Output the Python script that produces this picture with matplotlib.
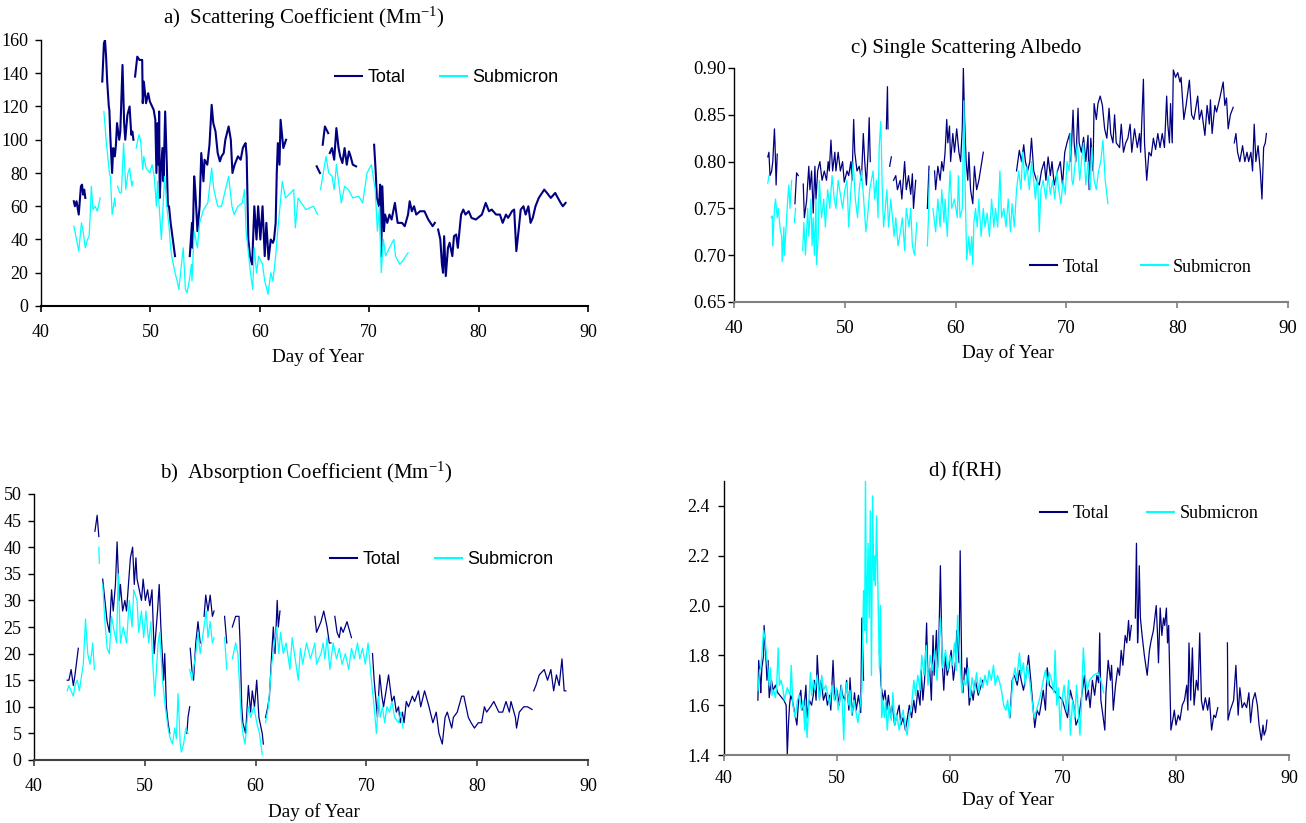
import numpy as np
import matplotlib
matplotlib.use("Agg")
import matplotlib.pyplot as plt

plt.rcParams['font.family'] = ['Liberation Serif', 'DejaVu Serif']
plt.rcParams['mathtext.fontset'] = 'custom'
plt.rcParams['mathtext.rm'] = 'Liberation Serif'
plt.rcParams['mathtext.it'] = 'Liberation Serif:italic'

GAP = None
NAVY = '#000080'
CYAN = '#00FFFF'

# ---------------- data: (day of year, value); GAP breaks a line ----------------
sca_total = [
    (43.0, 63), (43.1, 60), (43.25, 63), (43.45, 55), (43.65, 72), (43.75, 73), (43.85, 67), (43.95, 70), (44.05, 65), GAP,
    (45.6, 135), (45.75, 158), (45.85, 160), (45.95, 150), (46.05, 135), (46.2, 120), (46.25, 118), (46.35, 100), (46.5, 80),
    (46.6, 95), (46.75, 90), (46.85, 97), (46.95, 110), (47.15, 100), (47.25, 105), (47.45, 145), (47.6, 110), (47.7, 100),
    (47.9, 115), (48.1, 120), (48.25, 103), (48.35, 105), (48.45, 100), GAP,
    (48.6, 138), (48.8, 150), (49.0, 148), (49.25, 148), (49.3, 122), (49.4, 135), (49.6, 122), (49.8, 128), (49.95, 123),
    (50.3, 118), (50.45, 112), (50.55, 80), (50.65, 110), (50.75, 85), (50.8, 117), (50.85, 65), (50.95, 80), (51.1, 95),
    (51.2, 75), (51.35, 117), (51.5, 85), (51.6, 60), (51.7, 60), (51.85, 50), (52.05, 40), (52.15, 35), (52.25, 30), GAP,
    (53.6, 30), (53.8, 50), (53.85, 35), (54.0, 78), (54.1, 70), (54.3, 45), (54.5, 60), (54.65, 92), (54.85, 75), (54.95, 88),
    (55.2, 85), (55.4, 97), (55.6, 121), (55.75, 110), (55.95, 105), (56.15, 92), (56.35, 87), (56.5, 90), (56.7, 92),
    (56.85, 100), (57.15, 108), (57.35, 100), (57.5, 80), (57.7, 85), (58.0, 90), (58.25, 88), (58.45, 95), (58.6, 97),
    (58.7, 98), (58.8, 90), (58.95, 40), (59.1, 30), (59.3, 25), (59.5, 60), (59.7, 40), (59.85, 60), (60.05, 40), (60.25, 60),
    (60.45, 30), (60.6, 50), (60.8, 28), (61.0, 40), (61.2, 38), (61.3, 40), (61.45, 50), (61.55, 80), (61.65, 98), (61.8, 85),
    (61.9, 112), (62.0, 105), (62.15, 95), (62.4, 100), GAP,
    (65.2, 84), (65.5, 80), GAP,
    (65.75, 97), (65.95, 108), (66.25, 104), GAP,
    (66.4, 92), (66.6, 95), (66.8, 88), (67.0, 107), (67.2, 95), (67.35, 90), (67.55, 86), (67.75, 95), (67.95, 85), (68.15, 93),
    (68.3, 90), (68.5, 85), (68.8, 84), GAP,
    (70.45, 97), (70.6, 80), (70.7, 65), (70.9, 60), (71.0, 73), (71.1, 30), (71.2, 72), (71.35, 45), (71.45, 55), (71.65, 50),
    (71.85, 55), (72.05, 52), (72.35, 62), (72.6, 50), (73.0, 50), (73.25, 48), (73.55, 55), (73.7, 63), (73.9, 57), (74.1, 60),
    (74.3, 55), (74.65, 57), (75.05, 57), (75.4, 52), (75.6, 50), (75.8, 48), (76.0, 50), GAP,
    (76.3, 46), (76.5, 40), (76.65, 25), (76.75, 20), (76.85, 42), (77.0, 18), (77.2, 35), (77.35, 38), (77.6, 30), (77.75, 42),
    (77.95, 43), (78.1, 35), (78.25, 45), (78.4, 55), (78.6, 58), (78.8, 55), (79.1, 57), (79.35, 53), (79.75, 52), (80.3, 55),
    (80.65, 62), (80.95, 57), (81.2, 58), (81.6, 55), (81.95, 55), (82.2, 50), (82.5, 55), (82.7, 53), (83.05, 57), (83.25, 58),
    (83.45, 33), (83.65, 45), (83.85, 58), (84.1, 60), (84.3, 55), (84.55, 60), (84.75, 50), (84.95, 53), (85.2, 60), (85.5, 65),
    (86.0, 70), (86.25, 68), (86.6, 65), (87.0, 68), (87.5, 62), (87.7, 60), (87.95, 62),
]

sca_sub = [
    (43.0, 48), (43.1, 45), (43.25, 40), (43.45, 33), (43.7, 50), (43.85, 45), (44.05, 35), (44.25, 40), (44.4, 42), (44.5, 55),
    (44.6, 72), (44.75, 58), (44.95, 60), (45.15, 57), (45.25, 60), (45.4, 65), GAP,
    (45.75, 117), (45.95, 100), (46.25, 80), (46.35, 78), (46.5, 55), (46.75, 65), (46.8, 60), GAP,
    (47.0, 72), (47.2, 68), (47.35, 68), (47.55, 98), (47.75, 70), (47.95, 80), (48.1, 83), (48.3, 72), (48.4, 75), GAP,
    (48.7, 95), (48.95, 103), (49.1, 100), (49.3, 82), (49.4, 90), (49.6, 83), (49.95, 80), (50.15, 85), (50.35, 78), (50.55, 60),
    (50.65, 75), (51.0, 40), (51.3, 78), (51.5, 60), (51.7, 48), (51.85, 35), (51.95, 30), (52.1, 25), (52.25, 20), (52.45, 15),
    (52.6, 10), (53.0, 35), (53.2, 10), (53.35, 8), (53.55, 15), (53.75, 25), (53.8, 15), (54.0, 45), (54.3, 35), (54.5, 50),
    (54.85, 58), (55.25, 62), (55.6, 83), (55.8, 70), (56.15, 60), (56.5, 60), (57.15, 78), (57.45, 60), (57.65, 55), (58.0, 60),
    (58.4, 62), (58.6, 70), (58.75, 45), (59.15, 20), (59.35, 10), (59.5, 35), (59.7, 20), (59.9, 30), (60.25, 25), (60.45, 15),
    (60.65, 10), (60.75, 7), (61.0, 20), (61.2, 15), (61.45, 30), (61.7, 50), (61.85, 60), (62.05, 75), (62.35, 65), (63.1, 70),
    (63.25, 47), (63.5, 65), (63.8, 62), (64.2, 58), (64.9, 60), (65.3, 55), GAP,
    (65.55, 70), (65.85, 82), (66.05, 90), (66.3, 80), (66.6, 78), (66.8, 70), (67.0, 85), (67.45, 62), (67.75, 72), (68.1, 70),
    (68.5, 65), (69.05, 66), (69.4, 62), (69.8, 80), (70.2, 85), (70.55, 70), (70.75, 45), (70.95, 60), (71.1, 20), (71.3, 40),
    (71.5, 30), (71.85, 35), (72.25, 40), (72.4, 30), (72.8, 25), (73.15, 28), (73.55, 32),
]

abs_total = [
    (43.0, 15), (43.15, 15), (43.35, 17), (43.55, 14), (43.7, 16), (44.0, 21), GAP,
    (45.5, 43), (45.7, 46), (45.85, 42), GAP,
    (46.2, 34), (46.4, 30), (46.6, 26), (46.8, 24), (47.0, 32), (47.15, 28), (47.35, 33), (47.5, 41), (47.7, 30), (47.8, 33),
    (48.0, 28), (48.2, 30), (48.35, 28), (48.7, 38), (48.9, 40), (49.05, 33), (49.2, 38), (49.3, 34), (49.5, 32), (49.7, 30),
    (49.85, 34), (50.05, 30), (50.25, 32), (50.45, 29), (50.65, 32), (50.85, 20), (51.15, 28), (51.3, 33), (51.45, 25),
    (51.7, 15), (51.8, 20), (51.95, 10), (52.1, 7), (52.25, 5), GAP,
    (53.8, 5), (53.9, 8), (54.05, 10), GAP,
    (54.1, 21), (54.25, 17), (54.4, 15), (54.6, 22), (54.8, 26), (55.0, 22), GAP,
    (55.35, 27), (55.5, 31), (55.7, 28), (55.9, 31), (56.1, 27), (56.25, 28), GAP,
    (57.2, 27), (57.4, 22), GAP,
    (57.9, 25), (58.2, 27), (58.5, 27), (58.6, 22), (58.75, 10), (58.85, 7), (59.1, 5), (59.35, 14), (59.55, 9), (59.7, 13),
    (59.9, 10), (60.1, 15), (60.3, 8), (60.6, 5), (60.7, 3), GAP,
    (60.9, 8), (61.1, 10), (61.25, 12), (61.45, 20), (61.6, 25), (61.75, 20), (61.95, 30), (62.05, 25), (62.2, 28), GAP,
    (65.35, 27), (65.5, 24), (65.9, 26), (66.15, 28), (66.45, 25), (66.65, 22), (66.8, 22), GAP,
    (67.15, 27), (67.35, 24), (67.55, 23), (67.7, 25), (67.9, 24), (68.25, 26), (68.65, 23), GAP,
    (70.55, 20), (70.7, 15), (71.0, 8), (71.2, 16), (71.4, 12), (71.55, 10), (72.0, 16), (72.3, 11), (72.5, 12), (72.7, 9),
    (72.9, 10), (73.05, 7), (73.25, 9), (73.4, 7), (73.6, 11), (73.8, 10), (74.15, 12), (74.35, 11), (74.7, 13), (74.9, 10),
    (75.25, 13), (75.65, 10), (76.0, 7), (76.3, 9), (76.55, 5), (76.85, 3), (77.1, 8), (77.3, 9), (77.7, 6), (77.85, 8),
    (78.2, 9), (78.6, 12), (78.8, 12), (79.0, 10), (79.2, 8), (79.45, 7), (79.75, 6), (80.1, 7), (80.4, 7), (80.65, 10),
    (80.85, 9), (81.2, 10), (81.5, 11), (81.95, 9), (82.3, 9), (82.6, 11), (82.9, 9), (83.05, 11), (83.45, 8), (83.55, 6),
    (83.8, 9), (84.2, 10), (84.55, 10), (84.95, 9.5), GAP,
    (85.1, 13), (85.3, 14), (85.6, 16), (86.05, 17), (86.35, 15), (86.65, 17), (86.9, 13), (87.15, 16), (87.4, 14),
    (87.65, 19), (87.85, 13), (88.0, 13),
]

abs_sub = [
    (43.0, 13), (43.15, 14), (43.35, 13), (43.55, 12), (43.7, 14), (43.9, 15), (44.1, 13), (44.3, 16), (44.45, 18),
    (44.65, 26.5), (44.85, 20), (45.05, 18), (45.2, 20), (45.3, 22), (45.45, 17), GAP,
    (45.85, 40), (45.9, 37), GAP,
    (46.2, 33), (46.4, 26), (46.6, 21), (46.8, 20), (47.0, 27), (47.25, 24), (47.45, 22), (47.6, 35), (47.8, 22), (48.05, 25),
    (48.35, 22), (48.6, 30), (48.85, 25), (49.0, 32), (49.3, 30), (49.45, 24), (49.7, 28), (49.9, 23), (50.1, 28), (50.35, 22),
    (50.55, 26), (50.75, 17), (50.9, 12), (51.2, 22), (51.35, 24), (51.6, 15), (51.85, 10), (52.1, 6), (52.3, 4), (52.5, 3),
    (52.7, 6), (52.85, 4), (53.0, 12.5), (53.2, 3), (53.3, 1.5), (53.5, 3), (53.7, 6), (53.9, 5), GAP,
    (54.05, 17), (54.25, 15), (54.6, 20), (54.8, 24), (55.0, 20), (55.35, 25), (55.55, 28), (55.7, 23), (55.9, 26), (56.1, 22),
    (56.25, 23), GAP,
    (57.2, 23), (57.4, 17), GAP,
    (57.9, 19), (58.2, 22), (58.4, 20), (58.7, 8), (58.85, 5), (59.05, 3), (59.35, 10), (59.55, 8), (59.85, 10), (60.1, 7),
    (60.35, 5), (60.6, 1), GAP,
    (60.9, 7), (61.15, 10), (61.45, 18), (61.7, 22), (61.9, 25), (62.1, 20), (62.25, 24), (62.5, 20), (62.75, 22), (63.1, 17),
    (63.3, 23), (63.65, 18), (63.85, 15), (64.05, 21), (64.25, 18), (64.6, 22), (64.95, 19), (65.35, 22), (65.5, 18), (65.9, 20),
    (66.1, 22), (66.25, 19), (66.45, 23), (66.7, 17), (67.0, 22), (67.3, 19), (67.55, 21), (67.8, 18), (68.1, 20), (68.4, 17),
    (68.65, 21), (68.9, 19), (69.2, 22), (69.4, 19), (69.65, 21), (69.9, 18), (70.15, 22), (70.5, 14), (70.7, 10), (70.9, 5),
    (71.1, 12), (71.25, 8), (71.45, 10), (71.65, 7), (71.85, 10), (72.1, 9), (72.3, 11), (72.55, 8), (72.9, 7), (73.1, 9),
    (73.3, 6),
]

ssa_total = [
    (43.05, 0.805), (43.15, 0.81), (43.25, 0.785), (43.4, 0.79), (43.5, 0.80), (43.65, 0.835), (43.7, 0.82), (43.8, 0.775),
    (43.9, 0.808), GAP,
    (45.5, 0.755), (45.65, 0.788), (45.8, 0.785), GAP,
    (46.25, 0.776), (46.35, 0.74), (46.55, 0.758), (46.75, 0.795), (46.85, 0.77), (47.0, 0.79), (47.15, 0.745), (47.3, 0.795),
    (47.4, 0.76), (47.55, 0.79), (47.75, 0.80), (47.95, 0.78), (48.15, 0.79), (48.35, 0.78), (48.5, 0.80), (48.6, 0.79),
    (48.75, 0.823), (48.9, 0.79), (49.1, 0.81), (49.2, 0.79), (49.4, 0.81), (49.6, 0.79), (49.8, 0.80), (49.95, 0.778),
    (50.2, 0.79), (50.35, 0.785), (50.55, 0.80), (50.65, 0.78), (50.8, 0.845), (50.9, 0.81), (51.1, 0.79), (51.3, 0.795),
    (51.5, 0.78), (51.67, 0.83), (51.8, 0.80), (51.95, 0.775), (52.1, 0.81), (52.2, 0.847), (52.3, 0.80), GAP,
    (53.75, 0.835), (53.85, 0.88), (53.9, 0.835), GAP,
    (54.05, 0.795), (54.2, 0.805), GAP,
    (54.4, 0.78), (54.6, 0.785), (54.75, 0.77), (55.0, 0.78), (55.15, 0.76), (55.4, 0.80), (55.55, 0.77), (55.75, 0.785),
    (55.95, 0.765), (56.1, 0.787), (56.2, 0.75), (56.4, 0.78), GAP,
    (57.45, 0.75), (57.6, 0.795), GAP,
    (58.1, 0.79), (58.2, 0.77), (58.4, 0.795), (58.6, 0.78), (58.75, 0.80), (58.9, 0.79), (59.05, 0.81), (59.2, 0.845),
    (59.3, 0.82), (59.45, 0.838), (59.55, 0.80), (59.75, 0.83), (59.9, 0.81), (60.1, 0.835), (60.3, 0.81), (60.45, 0.80),
    (60.6, 0.835), (60.7, 0.90), (60.8, 0.85), (60.95, 0.80), (61.1, 0.78), (61.2, 0.81), (61.35, 0.77), (61.55, 0.755),
    (61.7, 0.795), (61.9, 0.77), (62.1, 0.78), (62.5, 0.81), GAP,
    (65.5, 0.79), (65.75, 0.812), (65.95, 0.80), (66.15, 0.818), (66.3, 0.80), (66.5, 0.79), (66.7, 0.80), (66.85, 0.825),
    (67.05, 0.79), (67.3, 0.78), (67.55, 0.775), (67.75, 0.79), (68.0, 0.80), (68.15, 0.78), (68.35, 0.805), (68.55, 0.785),
    (68.7, 0.80), (68.9, 0.775), (69.2, 0.79), (69.45, 0.80), (69.65, 0.775), (69.85, 0.81), (70.05, 0.82), (70.3, 0.83),
    (70.4, 0.80), (70.6, 0.855), (70.7, 0.82), (70.85, 0.80), (71.05, 0.857), (71.15, 0.82), (71.35, 0.81), (71.55, 0.826),
    (71.75, 0.80), (71.95, 0.828), (72.05, 0.77), (72.2, 0.825), (72.4, 0.79), (72.5, 0.862), (72.7, 0.845), (72.85, 0.862),
    (73.05, 0.87), (73.25, 0.86), (73.45, 0.835), (73.65, 0.825), (73.85, 0.857), (74.0, 0.83), (74.2, 0.82), (74.35, 0.85),
    (74.5, 0.82), (74.8, 0.815), (74.95, 0.84), (75.15, 0.81), (75.35, 0.82), (75.55, 0.825), (75.75, 0.84), (75.9, 0.81),
    (76.15, 0.835), (76.4, 0.815), (76.6, 0.83), (76.7, 0.81), (76.95, 0.888), (77.05, 0.82), (77.25, 0.78), (77.45, 0.81),
    (77.65, 0.806), (77.85, 0.825), (78.05, 0.813), (78.25, 0.83), (78.45, 0.815), (78.65, 0.83), (78.85, 0.815),
    (79.05, 0.87), (79.15, 0.84), (79.3, 0.82), (79.4, 0.862), (79.55, 0.82), (79.65, 0.898), (79.85, 0.89), (80.05, 0.895),
    (80.25, 0.885), (80.35, 0.89), (80.6, 0.845), (80.8, 0.86), (81.1, 0.887), (81.3, 0.85), (81.5, 0.845), (81.65, 0.855),
    (81.85, 0.87), (82.0, 0.845), (82.2, 0.855), (82.5, 0.828), (82.7, 0.86), (82.9, 0.84), (83.0, 0.866), (83.15, 0.83),
    (83.4, 0.86), (83.55, 0.853), (83.85, 0.868), (84.15, 0.885), (84.3, 0.86), (84.45, 0.868), (84.6, 0.835), (84.8, 0.85),
    (85.05, 0.858), GAP,
    (85.15, 0.82), (85.3, 0.83), (85.45, 0.81), (85.65, 0.80), (85.9, 0.817), (86.1, 0.80), (86.3, 0.81), (86.45, 0.80),
    (86.65, 0.81), (86.8, 0.79), (86.95, 0.84), (87.1, 0.80), (87.3, 0.817), (87.5, 0.79), (87.65, 0.76), (87.8, 0.815),
    (87.95, 0.82), (88.05, 0.83),
]

ssa_sub = [
    (43.05, 0.777), (43.15, 0.785), GAP,
    (43.35, 0.74), (43.45, 0.742), (43.5, 0.71), (43.65, 0.75), (43.75, 0.76), (43.9, 0.74), (44.0, 0.75), (44.15, 0.73),
    (44.3, 0.72), (44.35, 0.693), (44.5, 0.73), (44.55, 0.70), (44.75, 0.74), (44.85, 0.76), (44.95, 0.775), (45.05, 0.75),
    (45.2, 0.78), GAP,
    (45.45, 0.735), (45.55, 0.75), GAP,
    (46.2, 0.705), (46.3, 0.735), (46.45, 0.70), (46.65, 0.75), (46.75, 0.72), (46.95, 0.76), (47.05, 0.71), (47.15, 0.74),
    (47.25, 0.70), (47.4, 0.76), (47.45, 0.69), (47.6, 0.72), (47.7, 0.78), (47.9, 0.74), (48.1, 0.76), (48.25, 0.73),
    (48.45, 0.77), (48.65, 0.75), (48.85, 0.785), (49.05, 0.76), (49.2, 0.75), (49.4, 0.78), (49.6, 0.765), (49.8, 0.75),
    (50.0, 0.77), (50.2, 0.78), (50.35, 0.73), (50.55, 0.77), (50.75, 0.80), (50.95, 0.76), (51.15, 0.74), (51.3, 0.77),
    (51.5, 0.79), (51.7, 0.76), (51.9, 0.725), (52.05, 0.74), (52.25, 0.77), (52.55, 0.79), (52.7, 0.76), (52.85, 0.78),
    (53.0, 0.74), (53.1, 0.815), (53.25, 0.843), (53.4, 0.76), (53.5, 0.73), (53.65, 0.75), (53.8, 0.77), (53.95, 0.73),
    (54.15, 0.76), (54.45, 0.72), (54.6, 0.74), (54.8, 0.71), (54.95, 0.72), (55.2, 0.74), (55.4, 0.705), (55.55, 0.75),
    (55.8, 0.73), (55.95, 0.75), (56.1, 0.71), (56.3, 0.70), (56.5, 0.735), GAP,
    (57.45, 0.71), (57.55, 0.74), (57.65, 0.79), GAP,
    (57.95, 0.75), (58.2, 0.725), (58.4, 0.76), (58.6, 0.73), (58.75, 0.77), (58.95, 0.735), (59.05, 0.76), (59.25, 0.72),
    (59.35, 0.75), (59.5, 0.79), (59.65, 0.75), (59.9, 0.76), (60.15, 0.74), (60.25, 0.785), (60.4, 0.74), (60.6, 0.75),
    (60.75, 0.865), (60.85, 0.78), (61.0, 0.695), (61.2, 0.72), (61.3, 0.70), (61.45, 0.72), (61.55, 0.69), (61.65, 0.735),
    (61.8, 0.75), (61.95, 0.73), (62.1, 0.76), (62.3, 0.72), (62.5, 0.75), (62.65, 0.73), (62.85, 0.745), (63.05, 0.72),
    (63.25, 0.76), (63.45, 0.73), (63.6, 0.75), (63.8, 0.73), (64.0, 0.79), (64.15, 0.74), (64.35, 0.75), (64.55, 0.73),
    (64.75, 0.76), (64.95, 0.725), (65.1, 0.755), (65.3, 0.73), (65.5, 0.77), (65.7, 0.79), (65.9, 0.77), (66.05, 0.81),
    (66.25, 0.78), (66.45, 0.795), (66.65, 0.77), (66.85, 0.80), (67.05, 0.78), (67.2, 0.76), (67.4, 0.785), (67.55, 0.725),
    (67.7, 0.77), (67.9, 0.78), (68.15, 0.76), (68.35, 0.785), (68.55, 0.765), (68.75, 0.78), (68.95, 0.76), (69.15, 0.79),
    (69.3, 0.77), (69.5, 0.755), (69.7, 0.78), (69.9, 0.765), (70.05, 0.80), (70.25, 0.79), (70.35, 0.83), (70.5, 0.78),
    (70.6, 0.775), (70.8, 0.80), (71.0, 0.82), (71.2, 0.78), (71.4, 0.805), (71.55, 0.82), (71.75, 0.775), (71.95, 0.80),
    (72.15, 0.77), (72.3, 0.815), (72.5, 0.78), (72.7, 0.77), (72.9, 0.79), (73.1, 0.80), (73.3, 0.823), (73.5, 0.78),
    (73.65, 0.765), (73.75, 0.755),
]

frh_total = [
    (43.0, 1.62), (43.07, 1.78), (43.2, 1.70), (43.25, 1.65), (43.35, 1.75), (43.5, 1.80), (43.55, 1.92), (43.7, 1.80),
    (43.8, 1.70), (43.9, 1.78), (44.0, 1.63), (44.2, 1.70), (44.35, 1.66), (44.55, 1.68), (44.75, 1.65), (45.3, 1.62),
    (45.5, 1.60), (45.6, 1.40), (45.7, 1.52), (45.8, 1.60), (45.9, 1.64), (46.05, 1.62), (46.25, 1.57), (46.45, 1.52),
    (46.6, 1.62), (46.8, 1.66), (46.9, 1.58), (47.1, 1.60), (47.25, 1.68), (47.35, 1.55), (47.55, 1.62), (47.75, 1.60),
    (47.9, 1.64), (48.0, 1.70), (48.15, 1.62), (48.25, 1.80), (48.45, 1.63), (48.6, 1.70), (48.8, 1.62), (49.0, 1.65),
    (49.15, 1.60), (49.35, 1.64), (49.45, 1.58), (49.65, 1.78), (49.8, 1.62), (50.0, 1.66), (50.2, 1.60), (50.35, 1.68),
    (50.5, 1.64), (50.7, 1.62), (50.85, 1.70), (51.05, 1.58), (51.15, 1.71), (51.35, 1.56), (51.55, 1.65), (51.7, 1.58),
    (51.9, 1.64), (52.1, 1.57), (52.2, 1.95), (52.35, 1.70), GAP,
    (53.75, 1.82), (53.9, 1.68), (54.1, 1.62), (54.25, 1.66), (54.4, 1.58), (54.55, 1.64), (54.75, 1.55), (54.9, 1.60),
    (55.1, 1.52), (55.3, 1.56), (55.5, 1.60), (55.65, 1.52), (55.85, 1.55), (56.05, 1.50), (56.2, 1.54), (56.4, 1.60),
    (56.6, 1.55), (56.8, 1.62), (56.95, 1.57), (57.15, 1.66), (57.35, 1.60), (57.45, 1.74), (57.6, 1.62), (57.75, 1.70),
    (57.93, 1.93), (58.05, 1.70), (58.2, 1.75), (58.35, 1.62), (58.5, 1.88), (58.6, 1.72), (58.8, 1.90), (58.9, 1.75),
    (59.0, 1.82), (59.15, 2.16), (59.3, 1.78), (59.45, 1.66), (59.6, 1.80), (59.75, 1.72), (59.9, 1.75), (60.1, 1.82),
    (60.3, 1.70), (60.5, 1.78), (60.6, 1.90), (60.8, 1.77), (60.9, 2.22), (61.05, 1.70), (61.15, 1.65), (61.3, 1.75),
    (61.45, 1.72), (61.5, 1.79), (61.7, 1.60), (61.9, 1.66), (62.05, 1.62), (62.25, 1.70), (62.5, 1.64), (62.9, 1.70), GAP,
    (65.3, 1.55), (65.5, 1.70), (65.7, 1.72), (65.95, 1.68), (66.15, 1.74), (66.3, 1.70), (66.5, 1.66), (66.75, 1.72),
    (66.95, 1.80), (67.15, 1.70), (67.3, 1.62), (67.5, 1.51), (67.7, 1.58), (67.9, 1.56), (68.05, 1.60), (68.25, 1.66),
    (68.45, 1.58), (68.6, 1.75), (68.8, 1.68), (69.95, 1.62), (70.2, 1.58), (70.4, 1.55), (70.65, 1.66), (70.95, 1.60),
    (71.15, 1.52), (71.4, 1.55), (71.6, 1.62), (71.9, 1.72), (72.05, 1.62), (72.25, 1.66), (72.4, 1.59), (72.6, 1.70),
    (72.8, 1.64), (73.0, 1.72), (73.15, 1.69), (73.25, 1.89), (73.35, 1.62), (73.5, 1.57), (73.7, 1.50), (73.8, 1.65),
    (74.0, 1.78), (74.2, 1.70), (74.3, 1.76), (74.45, 1.58), (74.65, 1.68), (74.85, 1.75), (75.0, 1.72), (75.15, 1.82),
    (75.3, 1.76), (75.5, 1.88), (75.65, 1.85), (75.8, 1.94), (75.9, 1.86), (76.05, 1.92), GAP,
    (76.4, 1.95), (76.5, 2.25), (76.6, 1.85), (76.65, 1.90), (76.75, 2.16), (76.85, 1.95), (77.0, 1.88), (77.2, 1.80),
    (77.45, 1.72), (77.65, 1.82), (77.8, 1.86), (78.0, 1.90), (78.25, 2.00), (78.35, 1.90), (78.45, 1.77), (78.6, 1.99),
    (78.75, 1.88), (78.9, 1.95), (79.0, 1.92), (79.15, 1.99), (79.25, 1.85), (79.35, 1.92), (79.55, 1.50), (79.75, 1.55),
    (79.85, 1.58), (80.0, 1.52), (80.2, 1.56), (80.35, 1.54), (80.55, 1.60), (80.75, 1.62), (80.95, 1.68), (81.05, 1.58),
    (81.15, 1.85), (81.3, 1.62), (81.45, 1.83), (81.6, 1.60), (81.8, 1.70), (81.95, 1.66), (82.1, 1.89), (82.25, 1.62),
    (82.4, 1.58), (82.6, 1.63), (82.8, 1.58), (82.95, 1.63), (83.15, 1.50), (83.35, 1.56), (83.5, 1.55), (83.7, 1.59), GAP,
    (84.55, 1.85), (84.6, 1.54), (84.8, 1.58), (85.1, 1.62), (85.3, 1.76), (85.5, 1.56), (85.65, 1.67), (85.85, 1.59),
    (86.05, 1.61), (86.25, 1.59), (86.45, 1.65), (86.6, 1.53), (86.8, 1.62), (87.0, 1.65), (87.2, 1.60), (87.35, 1.52),
    (87.55, 1.46), (87.7, 1.52), (87.8, 1.48), (87.95, 1.50), (88.05, 1.54),
]

frh_sub = [
    (43.0, 1.66), (43.15, 1.74), (43.25, 1.75), (43.35, 1.80), (43.5, 1.90), (43.65, 1.86), (43.75, 1.80), (43.9, 1.74),
    (44.0, 1.68), (44.1, 1.75), (44.25, 1.64), (44.4, 1.66), (44.55, 1.63), (44.65, 1.67), (44.8, 1.83), (44.9, 1.68),
    (45.05, 1.70), (45.2, 1.67), (45.35, 1.62), (45.6, 1.67), (45.85, 1.64), (45.95, 1.76), (46.1, 1.60), (46.3, 1.55),
    (46.5, 1.62), (46.65, 1.64), (46.85, 1.58), (47.0, 1.62), (47.15, 1.50), (47.2, 1.62), (47.35, 1.47), (47.5, 1.60),
    (47.65, 1.73), (47.75, 1.64), (47.9, 1.70), (48.05, 1.66), (48.25, 1.72), (48.45, 1.62), (48.65, 1.72), (48.8, 1.66),
    (49.0, 1.68), (49.2, 1.64), (49.35, 1.60), (49.55, 1.68), (49.75, 1.62), (49.95, 1.67), (50.1, 1.58), (50.3, 1.64),
    (50.4, 1.68), (50.6, 1.46), (50.7, 1.62), (50.85, 1.69), (51.05, 1.60), (51.15, 1.66), (51.3, 1.56), (51.5, 1.62),
    (51.65, 1.58), (51.85, 1.53), (52.05, 1.60), (52.2, 1.66), (52.35, 2.06), (52.45, 1.90), (52.52, 2.50), (52.62, 1.85),
    (52.75, 2.25), (52.85, 1.95), (52.95, 2.38), (53.05, 1.72), (53.15, 2.44), (53.25, 2.10), (53.35, 2.20), (53.4, 2.08),
    (53.5, 2.36), (53.6, 2.12), (53.75, 1.75), (53.85, 2.00), (53.95, 1.55), (54.05, 1.62), (54.2, 1.55), (54.3, 1.62),
    (54.45, 1.50), (54.6, 1.60), (54.8, 1.54), (54.95, 1.65), (55.1, 1.52), (55.3, 1.56), (55.5, 1.50), (55.65, 1.54),
    (55.85, 1.58), (56.05, 1.51), (56.2, 1.48), (56.4, 1.56), (56.6, 1.60), (56.8, 1.70), (56.95, 1.64), (57.15, 1.72),
    (57.35, 1.66), (57.5, 1.80), (57.7, 1.72), (57.9, 1.84), (58.05, 1.68), (58.25, 1.80), (58.45, 1.74), (58.65, 1.82),
    (58.85, 1.70), (59.15, 1.95), (59.35, 1.75), (59.6, 1.82), (59.8, 1.74), (60.0, 1.80), (60.2, 1.76), (60.4, 1.85),
    (60.55, 1.74), (60.67, 1.96), (60.85, 1.80), (61.05, 1.65), (61.2, 1.70), (61.4, 1.68), (61.6, 1.75), (61.8, 1.63),
    (61.95, 1.71), (62.15, 1.66), (62.35, 1.73), (62.55, 1.65), (62.7, 1.71), (62.9, 1.67), (63.1, 1.72), (63.3, 1.68),
    (63.45, 1.74), (63.65, 1.70), (63.85, 1.76), (64.0, 1.68), (64.2, 1.72), (64.4, 1.69), (64.55, 1.66), (64.75, 1.60),
    (64.95, 1.58), (65.1, 1.62), (65.25, 1.55), (65.4, 1.60), (65.55, 1.70), (65.75, 1.75), (65.9, 1.70), (66.15, 1.81),
    (66.3, 1.72), (66.5, 1.77), (66.65, 1.68), (66.85, 1.76), (67.05, 1.70), (67.25, 1.62), (67.45, 1.55), (67.65, 1.58),
    (67.9, 1.62), (68.1, 1.66), (68.25, 1.70), (68.45, 1.74), (68.65, 1.68), (68.8, 1.73), (69.0, 1.70), (69.2, 1.65),
    (69.3, 1.82), (69.45, 1.60), (69.6, 1.67), (69.75, 1.50), (69.9, 1.62), (70.1, 1.68), (70.3, 1.58), (70.5, 1.70),
    (70.65, 1.48), (70.85, 1.62), (71.05, 1.55), (71.2, 1.68), (71.5, 1.48), (71.65, 1.62), (71.8, 1.83), (71.95, 1.72),
    (72.15, 1.66), (72.35, 1.70), (72.7, 1.72), (73.1, 1.73), (73.35, 1.70), (73.6, 1.65),
]

day_ticks = [40, 50, 60, 70, 80, 90]
legend_labels = ['Total', 'Submicron']


def unpack(series):
    arr = np.array([(np.nan, np.nan) if p is None else p for p in series], dtype=float)
    return arr[:, 0], arr[:, 1]


W, H = 1306, 823
fig = plt.figure(figsize=(W / 100, H / 100), dpi=100)


def axes_px(x0, x1, y0, y1):
    return fig.add_axes([x0 / W, 1 - y1 / H, (x1 - x0) / W, (y1 - y0) / H])


def text_px(x, y, s, **kw):
    fig.text(x / W, 1 - y / H, s, ha='center', va='center', **kw)


def panel(box, total, sub, lw_total, lw_sub, ylim, yticks, yfmt, bottom_color,
          title, title_xy, xlabel_xy, legend_xy, legend_font, legend_size,
          ypad, xpad, tick_size, handlelength, colspacing):
    ax = axes_px(*box)
    d, v = unpack(total)
    ax.plot(d, v, color=NAVY, lw=lw_total, label=legend_labels[0], solid_joinstyle='round')
    d, v = unpack(sub)
    ax.plot(d, v, color=CYAN, lw=lw_sub, label=legend_labels[1], solid_joinstyle='round')
    ax.set_xlim(40, 90)
    ax.set_xticks(day_ticks)
    ax.set_ylim(*ylim)
    ax.set_yticks(yticks)
    ax.set_yticklabels([yfmt.format(t) for t in yticks])
    for s in ('top', 'right'):
        ax.spines[s].set_visible(False)
    ax.spines['left'].set_color('black')
    ax.spines['left'].set_linewidth(1.0)
    ax.spines['bottom'].set_color(bottom_color)
    ax.spines['bottom'].set_linewidth(1.5)
    ax.tick_params(axis='y', direction='out', length=4, width=1, pad=ypad, labelsize=tick_size, colors='black')
    ax.tick_params(axis='x', direction='out', length=4, width=1.2, pad=xpad, labelsize=tick_size,
                   color=bottom_color, labelcolor='black')
    text_px(*title_xy, title, fontsize=15)
    text_px(*xlabel_xy, 'Day of Year', fontsize=13.8)
    leg = ax.legend(loc='center left', bbox_to_anchor=(legend_xy[0] / W, 1 - legend_xy[1] / H),
                    bbox_transform=fig.transFigure, ncol=2, frameon=False, borderpad=0, borderaxespad=0,
                    handlelength=handlelength, handletextpad=0.3, columnspacing=colspacing,
                    prop={'family': legend_font, 'size': legend_size})
    for line in leg.get_lines():
        line.set_linewidth(1.5)
    return ax


panel((41, 588, 40, 306), sca_total, sca_sub, 1.5, 0.9, (0, 160), list(range(0, 161, 20)), '{:d}', 'black',
      r'a)  Scattering Coefficient (Mm$^{\mathregular{-1}}$)', (304, 18), (318, 357), (335, 78),
      'Liberation Sans', 13, 5, 9, 13, 1.5, 1.9)

panel((34, 588, 494, 760), abs_total, abs_sub, 0.9, 0.9, (0, 50), list(range(0, 51, 5)), '{:d}', '#404040',
      r'b)  Absorption Coefficient (Mm$^{\mathregular{-1}}$)', (306, 473), (314, 812), (330, 560),
      'Liberation Sans', 13, 5, 9, 13, 1.5, 1.9)

panel((734, 1288, 68, 302), ssa_total, ssa_sub, 0.9, 0.9, (0.65, 0.90), [0.65, 0.70, 0.75, 0.80, 0.85, 0.90], '{:.2f}',
      '#808080', 'c) Single Scattering Albedo', (966, 48), (1008, 353), (1030, 267),
      'Liberation Serif', 13, 2, 9, 13.5, 1.5, 2.3)

panel((724, 1289, 481, 755), frh_total, frh_sub, 0.9, 1.0, (1.4, 2.5), [1.4, 1.6, 1.8, 2.0, 2.2, 2.4], '{:.1f}',
      '#808080', 'd) f(RH)', (965, 472), (1008, 800), (1040, 514),
      'Liberation Serif', 13, 6, 7, 13, 1.5, 2.1)

fig.savefig('out.png', dpi=100)
